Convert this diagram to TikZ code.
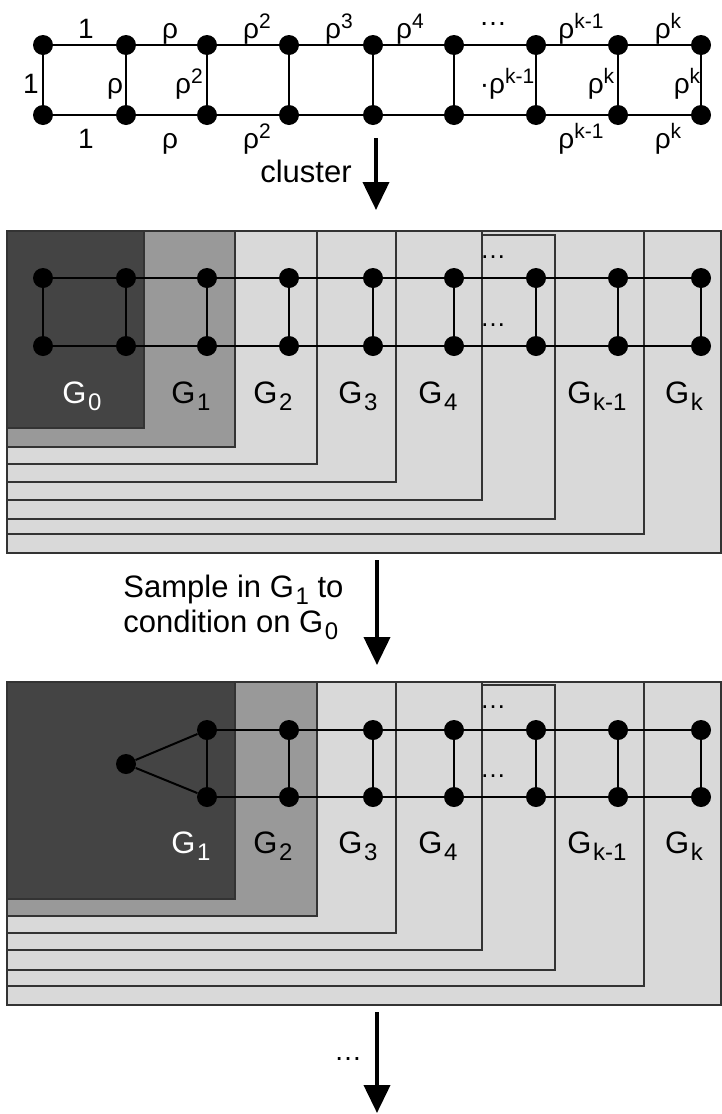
\documentclass[tikz,border=0pt]{standalone}
\usepackage{fontspec}
\setmainfont{Liberation Sans}
\usetikzlibrary{arrows.meta}

\definecolor{boxdark}{HTML}{444444}
\definecolor{boxmid}{HTML}{999999}
\definecolor{boxlight}{HTML}{D9D9D9}
\definecolor{boxline}{HTML}{333333}

% G with a lowered index, rho with a raised exponent
\newcommand{\Gsub}[1]{G\kern0.8pt\raisebox{-3.5pt}{\fontsize{12}{12}\selectfont #1}}
\newcommand{\rsup}[1]{ρ\raisebox{5pt}{\fontsize{10.5}{10.5}\selectfont #1}}

\begin{document}
\begin{tikzpicture}[x=0.5pt,y=-0.5pt,
  vtx/.style={circle,fill=black,inner sep=0pt,minimum size=10pt},
  edge/.style={line width=1pt,black},
  lbl/.style={font=\fontsize{14}{14}\selectfont,inner sep=0pt,anchor=base},
  glabel/.style={font=\fontsize{15.5}{16}\selectfont,inner sep=0pt,anchor=base},
  caption/.style={font=\fontsize{15.5}{16}\selectfont,inner sep=0pt,anchor=base west},
  flowarrow/.style={line width=2pt,-{Triangle[width=13pt,length=14pt]}},
  lightbox/.style={fill=boxlight,draw=boxline,line width=0.8pt},
  midbox/.style={fill=boxmid,draw=boxline,line width=0.8pt},
  darkbox/.style={fill=boxdark,draw=boxline,line width=0.8pt},
  dotsmark/.style={font=\fontsize{13}{13}\selectfont,inner sep=0pt,anchor=base}]

\useasboundingbox (0,0) rectangle (722,1114);

% ---------- weighted ladder ----------
\foreach \i/\x in {0/43,1/126,2/207,3/289,4/373,5/454,6/536,7/618,8/701}{
  \node[vtx] (t\i) at (\x,45) {};
  \node[vtx] (b\i) at (\x,115) {};
}
\foreach \i [evaluate=\i as \j using int(\i+1)] in {0,...,7}{
  \draw[edge] (t\i) -- (t\j);
  \draw[edge] (b\i) -- (b\j);
}
\foreach \i in {0,...,8}{ \draw[edge] (t\i) -- (b\i); }

% weights on the upper rail
\node[lbl] (wt1) at (86,38) {1};
\node[lbl] (wt2) at (170,38) {ρ};
\node[lbl] (wt3) at (257,38) {\rsup{2}};
\node[lbl] (wt4) at (339,38) {\rsup{3}};
\node[lbl] (wt5) at (410,38) {\rsup{4}};
\node[lbl] (wt6) at (493,25) {…};
\node[lbl] (wt7) at (581,38) {\rsup{k-1}};
\node[lbl] (wt8) at (668,38) {\rsup{k}};
% weights on the rungs
\node[lbl] (wr0) at (31,93) {1};
\node[lbl] (wr1) at (115,93) {ρ};
\node[lbl] (wr2) at (189,93) {\rsup{2}};
\node[lbl] (wr6) at (507,93) {·\rsup{k-1}};
\node[lbl] (wr7) at (601,93) {\rsup{k}};
\node[lbl] (wr8) at (687,93) {\rsup{k}};
% weights on the lower rail
\node[lbl] (wb1) at (86,148) {1};
\node[lbl] (wb2) at (170,148) {ρ};
\node[lbl] (wb3) at (257,148) {\rsup{2}};
\node[lbl] (wb7) at (581,148) {\rsup{k-1}};
\node[lbl] (wb8) at (668,148) {\rsup{k}};

% ---------- clustering step ----------
\coordinate (a1s) at (376,138);
\coordinate (a1e) at (376,210);
\draw[flowarrow] (a1s) -- (a1e);
\node[glabel] (cl) at (306,182) {cluster};

% nested clusters G_0 ... G_k
\draw[lightbox] (7,231) rectangle (721,553);
\draw[lightbox] (7,231) rectangle (644,534);
\draw[lightbox] (7,235) rectangle (555,519);
\draw[lightbox] (7,231) rectangle (482,500);
\draw[lightbox] (7,231) rectangle (396,482);
\draw[lightbox] (7,231) rectangle (317,464);
\draw[midbox]   (7,231) rectangle (235,447);
\draw[darkbox]  (7,231) rectangle (144,428);

\foreach \i/\x in {0/43,1/126,2/207,3/289,4/373,5/454,6/536,7/618,8/701}{
  \node[vtx] (mt\i) at (\x,278) {};
  \node[vtx] (mb\i) at (\x,346) {};
}
\foreach \i [evaluate=\i as \j using int(\i+1)] in {0,...,7}{
  \draw[edge] (mt\i) -- (mt\j);
  \draw[edge] (mb\i) -- (mb\j);
}
\foreach \i in {0,...,8}{ \draw[edge] (mt\i) -- (mb\i); }
\node[dotsmark] (md1) at (493,258) {…};
\node[dotsmark] (md2) at (493,326) {…};

\node[glabel,text=white] (mg0) at (82,403) {\Gsub{0}};
\node[glabel] (mg1) at (191,403) {\Gsub{1}};
\node[glabel] (mg2) at (273,403) {\Gsub{2}};
\node[glabel] (mg3) at (358,403) {\Gsub{3}};
\node[glabel] (mg4) at (438,403) {\Gsub{4}};
\node[glabel] (mgk1) at (597,403) {\Gsub{k-1}};
\node[glabel] (mgk) at (684,403) {\Gsub{k}};

% ---------- conditioning step ----------
\coordinate (a2s) at (377,560);
\coordinate (a2e) at (377,665);
\draw[flowarrow] (a2s) -- (a2e);
\node[caption] (capA) at (123,597) {Sample in \Gsub{1} to};
\node[caption] (capB) at (123,632) {condition on \Gsub{0}};

\draw[lightbox] (7,682) rectangle (721,1005);
\draw[lightbox] (7,682) rectangle (644,986);
\draw[lightbox] (7,685) rectangle (555,970);
\draw[lightbox] (7,682) rectangle (482,950);
\draw[lightbox] (7,682) rectangle (396,933);
\draw[midbox]   (7,682) rectangle (317,916);
\draw[darkbox]  (7,682) rectangle (235,899);

\node[vtx] (root) at (126,764) {};
\foreach \i/\x in {2/207,3/289,4/373,5/454,6/536,7/618,8/701}{
  \node[vtx] (lt\i) at (\x,730) {};
  \node[vtx] (lb\i) at (\x,797) {};
}
\foreach \i [evaluate=\i as \j using int(\i+1)] in {2,...,7}{
  \draw[edge] (lt\i) -- (lt\j);
  \draw[edge] (lb\i) -- (lb\j);
}
\foreach \i in {2,...,8}{ \draw[edge] (lt\i) -- (lb\i); }
\draw[edge] (root) -- (lt2);
\draw[edge] (root) -- (lb2);
\node[dotsmark] (ld1) at (493,708) {…};
\node[dotsmark] (ld2) at (493,777) {…};

\node[glabel,text=white] (lg1) at (191,853) {\Gsub{1}};
\node[glabel] (lg2) at (273,853) {\Gsub{2}};
\node[glabel] (lg3) at (358,853) {\Gsub{3}};
\node[glabel] (lg4) at (438,853) {\Gsub{4}};
\node[glabel] (lgk1) at (597,853) {\Gsub{k-1}};
\node[glabel] (lgk) at (684,853) {\Gsub{k}};

% ---------- further steps ----------
\coordinate (a3s) at (377,1012);
\coordinate (a3e) at (377,1113);
\draw[flowarrow] (a3s) -- (a3e);
\node[lbl] (more) at (348,1060) {…};

\end{tikzpicture}
\end{document}
